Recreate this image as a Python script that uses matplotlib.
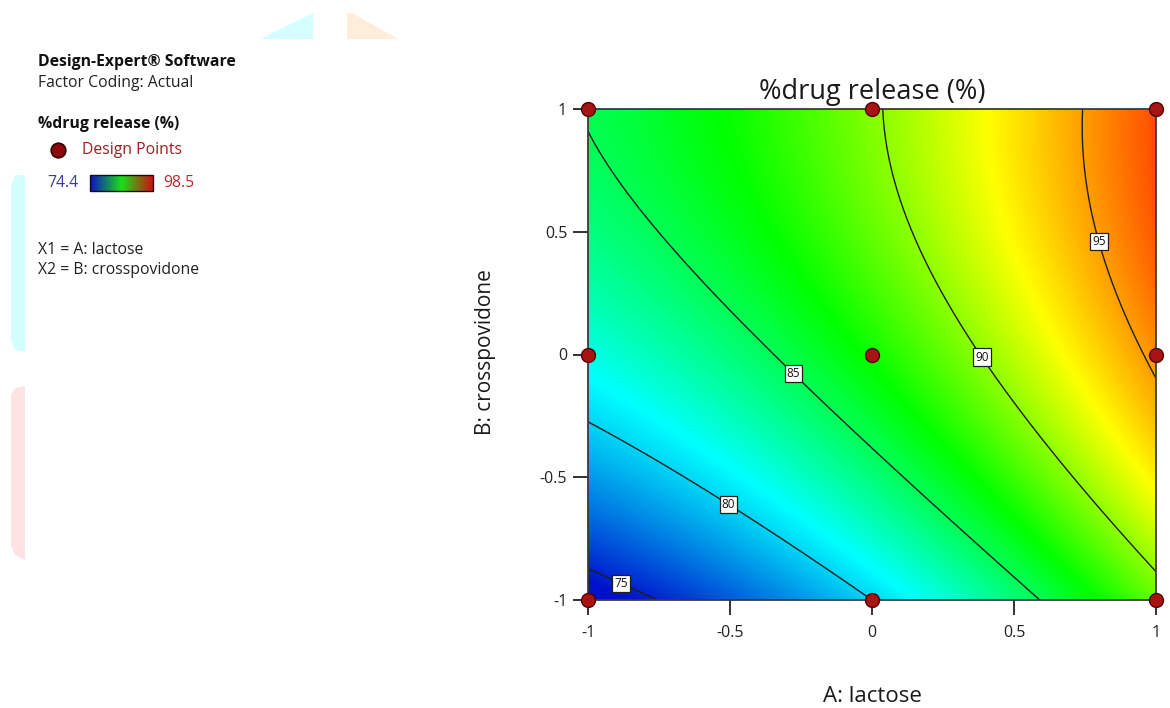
import numpy as np
import matplotlib
matplotlib.use('Agg')
import matplotlib.pyplot as plt
from matplotlib.colors import LinearSegmentedColormap

plt.rcParams['font.family'] = ['Open Sans', 'DejaVu Sans']

# quadratic model in coded units
# y = b0 + a*A + b*B + ab*A*B + aa*A^2 + bb*B^2
model_terms = ['b0', 'A', 'B', 'AB', 'A2', 'B2']
model_coefs = [87.2, 6.84, 4.885, -0.81, 1.376, -2.315]

# design points (coded levels)
design_A = [-1, 0, 1, -1, 0, 1, -1, 0, 1]
design_B = [-1, -1, -1, 0, 0, 0, 1, 1, 1]

contour_levels = [75, 80, 85, 90, 95]
resp_min = 74.4
resp_max = 98.5
x_ticks = [-1, -0.5, 0, 0.5, 1]
y_ticks = [-1, -0.5, 0, 0.5, 1]

# where the contour labels sit (snapped onto the lines by clabel)
label_spots = [(-0.88, -0.92), (-0.5, -0.6), (-0.27, -0.07), (0.4, 0.0), (0.83, 0.47)]

# Design-Expert style colour ramp
de_cmap = LinearSegmentedColormap.from_list(
    'de', [(0.0, '#0010cc'), (0.28, '#00ffff'), (0.52, '#00ff00'),
           (0.75, '#ffff00'), (1.0, '#ff1e00')])
mini_cmap = LinearSegmentedColormap.from_list(
    'mini', ['#1010c8', '#18e018', '#d01010'])

W, H = 1170, 708
fig = plt.figure(figsize=(W / 100, H / 100), dpi=100)

# main plot area (pixel box 588..1156 x 109..600)
ax = fig.add_axes([588 / W, 1 - 600 / H, 568 / W, 491 / H])

gA = np.linspace(-1, 1, 401)
gB = np.linspace(-1, 1, 401)
AA, BB = np.meshgrid(gA, gB)
b0, a, b, ab, aa, bb = model_coefs
Z = b0 + a * AA + b * BB + ab * AA * BB + aa * AA ** 2 + bb * BB ** 2

ax.imshow(Z, origin='lower', extent=[-1, 1, -1, 1], cmap=de_cmap,
          vmin=resp_min, vmax=resp_max, aspect='auto', interpolation='bilinear')
cs = ax.contour(AA, BB, Z, levels=contour_levels, colors='#1e1e1e', linewidths=1.0)
labels = ax.clabel(cs, fmt='%d', fontsize=8.5, inline=False, manual=label_spots)
for t in labels:
    t.set_rotation(0)
    t.set_color('#111111')
    t.set_bbox(dict(boxstyle='square,pad=0.18', fc='white', ec='#202020', lw=0.9))

ax.scatter(design_A, design_B, s=100, c='#a81414', edgecolors='#500000',
           linewidths=1.0, zorder=6, clip_on=False)

ax.set_xlim(-1, 1)
ax.set_ylim(-1, 1)
ax.set_xticks(x_ticks)
ax.set_yticks(y_ticks)
ax.set_xticklabels(['-1', '-0.5', '0', '0.5', '1'])
ax.set_yticklabels(['-1', '-0.5', '0', '0.5', '1'])
ax.tick_params(direction='out', length=11, width=1.3,
               labelsize=11.5, colors='#222222')
ax.tick_params(axis='x', pad=7)
ax.tick_params(axis='y', pad=4)
for sp in ax.spines.values():
    sp.set_color('#3a3a3a')
    sp.set_linewidth(1.3)

ax.set_title('%drug release (%)', fontsize=19.5, color='#1a1a1a', pad=7)
ax.set_xlabel('A: lactose', fontsize=16, color='#1a1a1a')
ax.xaxis.set_label_coords(0.5, -0.196)
ax.xaxis.label.set_va('center')
ax.set_ylabel('B: crosspovidone', fontsize=15, color='#1a1a1a')
ax.yaxis.set_label_coords(-0.181, 0.505)
ax.yaxis.label.set_va('center')

# left-hand info panel, drawn in pixel coordinates
leg = fig.add_axes([0, 0, 1, 1], zorder=-1)
leg.axis('off')

# faint watermark shapes left over in the screenshot
leg.fill([260, 313, 313], [39, 13, 39], color='#d5ffff', lw=0)
leg.fill([347, 352, 398, 347], [13, 13, 39, 39], color='#ffecd9', lw=0)
leg.fill([15, 25, 25, 15, 11, 11], [175, 175, 352, 350, 340, 185], color='#d4ffff', lw=0)
leg.fill([15, 25, 25, 15, 11, 11], [388, 386, 560, 555, 545, 395], color='#ffe2e2', lw=0)

fs = 11.3
leg.text(38, 62, 'Design-Expert® Software', fontsize=fs, fontweight='bold',
         color='#111111', va='center')
leg.text(38, 83, 'Factor Coding: Actual', fontsize=fs, color='#222222', va='center')
leg.text(38, 124, '%drug release (%)', fontsize=fs, fontweight='bold',
         color='#111111', va='center')
leg.plot([58], [150], 'o', ms=10.5, mfc='#8c0a0a', mec='#300000', mew=1.2)
leg.text(82, 150, 'Design Points', fontsize=fs, color='#a01c1c', va='center')
leg.text(47, 183, f'{resp_min}', fontsize=fs, color='#3a3aa0', va='center')
leg.imshow(np.linspace(0, 1, 100).reshape(1, -1), extent=[90, 153, 191, 175],
           cmap=mini_cmap, aspect='auto')
leg.add_patch(plt.Rectangle((90, 175), 63, 16, fill=False, ec='#111111', lw=1.0))
leg.text(163, 183, f'{resp_max}', fontsize=fs, color='#c02828', va='center')
leg.text(38, 250, 'X1 = A: lactose', fontsize=fs, color='#222222', va='center')
leg.text(38, 270, 'X2 = B: crosspovidone', fontsize=fs, color='#222222', va='center')
leg.set_xlim(0, W)
leg.set_ylim(H, 0)

fig.savefig('out.png', dpi=100)
